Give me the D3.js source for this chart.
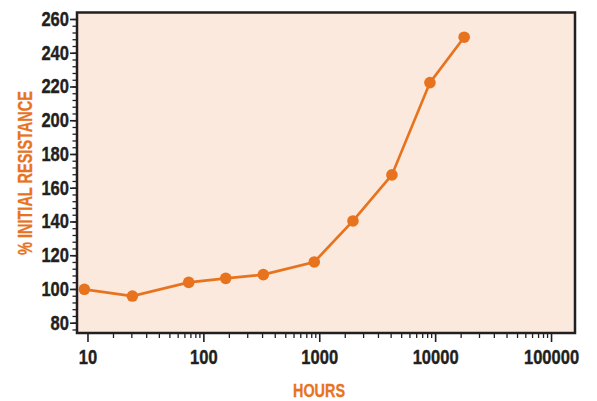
<!DOCTYPE html>
<html><head><meta charset="utf-8">
<script src="https://cdn.jsdelivr.net/npm/d3@7"></script>
<style>
html,body{margin:0;padding:0;background:#fff;}
svg{display:block;}
text{font-family:"Liberation Sans",Arial,sans-serif;font-weight:bold;}
</style></head>
<body>
<svg id="chart" width="597" height="401"></svg>
<script>
const hours      = [9.4, 24.4, 74.7, 156, 329, 906, 1954, 4238, 9020, 17800];
const resistance = [99.8, 95.8, 103.9, 106.3, 108.5, 116, 140.3, 167.6, 222.3, 249.2];
const xTickValues = [10, 100, 1000, 10000, 100000];
const xTickLabels = ["10", "100", "1000", "10000", "100000"];
const xMinorMultipliers = [1.66, 2.39, 3.21, 4.13, 5.09, 6.0, 6.86, 7.73, 8.53, 9.24];
const yTickValues = [80, 100, 120, 140, 160, 180, 200, 220, 240, 260];
const yMinorStep = 4;
const xTitle = "HOURS";
const yTitle = "% INITIAL RESISTANCE";

(function () {
const orange = "#e8731f", dark = "#231f20", fill = "#fae9dc";
const pL = 77, pR = 575, pT = 12.5, pB = 333;
const digitW = 9.2;
const svg = d3.select("#chart");

const x = d3.scaleLog().domain([8.12, 161000]).range([pL, pR]);
const y = d3.scaleLinear().domain([73.9, 263.85]).range([pB, pT]);

svg.append("rect").attr("x", pL).attr("y", pT)
  .attr("width", pR - pL).attr("height", pB - pT)
  .attr("fill", fill);

const styleLabels = g => g.selectAll("text")
  .attr("fill", dark).attr("font-size", 20)
  .attr("stroke", dark).attr("stroke-width", 0.4)
  .attr("font-family", '"Liberation Sans",Arial,sans-serif').attr("font-weight", "bold")
  .attr("lengthAdjust", "spacingAndGlyphs")
  .attr("textLength", function () { return this.textContent.length * digitW; });

const xMinor = [];
xTickValues.slice(0, -1).forEach(d => xMinorMultipliers.forEach(m => xMinor.push(d * m)));
const gx = svg.append("g").attr("transform", `translate(0,${pB})`);
gx.append("g").call(d3.axisBottom(x).tickValues(xMinor).tickSize(5).tickFormat(""))
  .call(g => g.select(".domain").remove())
  .selectAll("line").attr("stroke", dark).attr("stroke-width", 1.3);
gx.append("g").call(d3.axisBottom(x).tickValues(xTickValues).tickSize(9).tickPadding(8)
    .tickFormat((d, i) => xTickLabels[i]))
  .call(g => g.select(".domain").remove())
  .call(g => g.selectAll("line").attr("stroke", dark).attr("stroke-width", 1.6))
  .call(styleLabels);

const yMinor = d3.range(76, 264, yMinorStep);
const gy = svg.append("g").attr("transform", `translate(${pL},0)`);
gy.append("g").call(d3.axisLeft(y).tickValues(yMinor).tickSize(4.5).tickFormat(""))
  .call(g => g.select(".domain").remove())
  .selectAll("line").attr("stroke", dark).attr("stroke-width", 1.3);
gy.append("g").call(d3.axisLeft(y).tickValues(yTickValues).tickSize(7).tickPadding(1)
    .tickFormat(d3.format("d")))
  .call(g => g.select(".domain").remove())
  .call(g => g.selectAll("line").attr("stroke", dark).attr("stroke-width", 1.6))
  .call(styleLabels);

svg.append("rect").attr("x", pL).attr("y", pT)
  .attr("width", pR - pL).attr("height", pB - pT)
  .attr("fill", "none").attr("stroke", dark).attr("stroke-width", 2.5);

const data = hours.map((h, i) => ({h, r: resistance[i]}));
svg.append("path").datum(data)
  .attr("fill", "none").attr("stroke", orange).attr("stroke-width", 2.7)
  .attr("d", d3.line().x(d => x(d.h)).y(d => y(d.r)));
svg.append("g").selectAll("circle").data(data).join("circle")
  .attr("cx", d => x(d.h)).attr("cy", d => y(d.r)).attr("r", 5.8)
  .attr("fill", orange);

svg.append("text").attr("x", 319).attr("y", 397).attr("text-anchor", "middle")
  .attr("fill", orange).attr("font-size", 19)
  .attr("stroke", orange).attr("stroke-width", 0.3)
  .attr("textLength", 52).attr("lengthAdjust", "spacingAndGlyphs").text(xTitle);
svg.append("text").attr("transform", "translate(32,173) rotate(-90)")
  .attr("text-anchor", "middle").attr("fill", orange).attr("font-size", 20)
  .attr("stroke", orange).attr("stroke-width", 0.3)
  .attr("textLength", 164).attr("lengthAdjust", "spacingAndGlyphs").text(yTitle);
})();
</script>
</body></html>
